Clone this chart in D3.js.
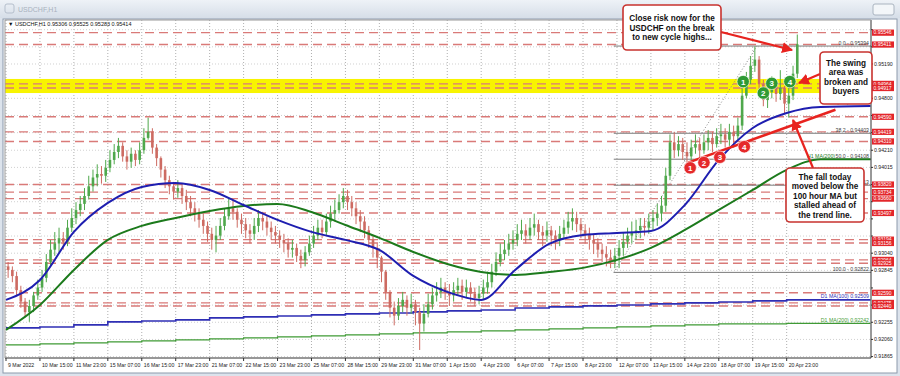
<!DOCTYPE html>
<html>
<head>
<meta charset="utf-8">
<script src="https://cdn.jsdelivr.net/npm/d3@7"></script>
<style>
	body { margin: 0; background: #dce3ec; }
	svg { display: block; font-family: "Liberation Sans", Arial, sans-serif; }
</style>
</head>
<body>
<script>
// ---- data ----
const timeLabels = ['9 Mar 2022', '10 Mar 15:00', '11 Mar 23:00', '15 Mar 07:00', '16 Mar 15:00', '17 Mar 23:00',
	'21 Mar 07:00', '22 Mar 15:00', '23 Mar 23:00', '25 Mar 07:00', '28 Mar 15:00', '29 Mar 23:00', '31 Mar 07:00',
	'1 Apr 15:00', '4 Apr 23:00', '6 Apr 07:00', '7 Apr 15:00', '8 Apr 23:00', '12 Apr 07:00', '13 Apr 15:00',
	'14 Apr 23:00', '18 Apr 07:00', '19 Apr 15:00', '20 Apr 23:00']
const barsPerLabel = 32
const barsPerCandle = 4

const firstOpen = 0.9289
const closes = [
	.9285, .9278, .9262, .9249, .9237, .9244, .9256, .9265,
	.9276, .9294, .9308, .9315, .9321, .9317, .9333, .9344,
	.9353, .9360, .9369, .9380, .9390, .9394, .9392, .9401,
	.9410, .9419, .9426, .9414, .9408, .9417, .9410, .9421,
	.9435, .9442, .9424, .9412, .9399, .9387, .9380, .9374,
	.9378, .9369, .9362, .9355, .9349, .9342, .9335, .9326,
	.9319, .9324, .9335, .9346, .9355, .9351, .9342, .9337,
	.9330, .9326, .9335, .9344, .9340, .9333, .9328, .9324,
	.9319, .9315, .9308, .9310, .9301, .9296, .9305, .9315,
	.9324, .9333, .9328, .9340, .9349, .9353, .9362, .9369,
	.9362, .9355, .9346, .9340, .9330, .9319, .9310, .9299,
	.9283, .9260, .9242, .9233, .9244, .9251, .9242, .9246,
	.9237, .9224, .9235, .9246, .9256, .9260, .9265, .9260,
	.9256, .9262, .9267, .9260, .9265, .9258, .9253, .9258,
	.9265, .9271, .9283, .9294, .9303, .9308, .9315, .9319,
	.9326, .9330, .9324, .9333, .9337, .9328, .9324, .9330,
	.9324, .9319, .9326, .9333, .9340, .9344, .9337, .9330,
	.9326, .9319, .9315, .9308, .9303, .9299, .9294, .9301,
	.9310, .9317, .9324, .9328, .9330, .9335, .9333, .9340,
	.9344, .9349, .9358, .9392, .9430, .9421, .9428, .9419,
	.9414, .9424, .9428, .9421, .9430, .9435, .9428, .9437,
	.9439, .9433, .9442, .9437, .9449, .9483, .9501, .9517,
	.9524, .9496, .9478, .9487, .9494, .9485, .9492, .9474,
	.9483, .9508, .95414]
const highs = [
	.9294, .9289, .9283, .9267, .9253, .9251, .9260, .9274,
	.9285, .9303, .9319, .9328, .9333, .9328, .9342, .9355,
	.9362, .9369, .9378, .9392, .9399, .9405, .9403, .9410,
	.9421, .9428, .9435, .9430, .9421, .9424, .9421, .9430,
	.9446, .9458, .9446, .9428, .9414, .9403, .9392, .9385,
	.9387, .9383, .9376, .9369, .9362, .9355, .9349, .9340,
	.9333, .9335, .9344, .9355, .9367, .9365, .9355, .9349,
	.9344, .9337, .9344, .9353, .9351, .9346, .9340, .9335,
	.9330, .9326, .9321, .9319, .9315, .9308, .9312, .9324,
	.9335, .9342, .9342, .9349, .9358, .9365, .9371, .9378,
	.9376, .9369, .9362, .9353, .9346, .9335, .9324, .9315,
	.9301, .9285, .9262, .9249, .9253, .9260, .9256, .9258,
	.9251, .9242, .9246, .9258, .9265, .9271, .9276, .9271,
	.9269, .9271, .9276, .9274, .9274, .9271, .9265, .9267,
	.9274, .9283, .9292, .9305, .9315, .9319, .9326, .9330,
	.9337, .9342, .9337, .9344, .9349, .9342, .9335, .9340,
	.9335, .9330, .9335, .9342, .9351, .9355, .9351, .9344,
	.9337, .9333, .9326, .9321, .9315, .9312, .9308, .9310,
	.9319, .9328, .9333, .9340, .9342, .9344, .9344, .9349,
	.9353, .9360, .9369, .9401, .9439, .9442, .9437, .9435,
	.9430, .9433, .9439, .9435, .9439, .9444, .9442, .9446,
	.9451, .9446, .9451, .9449, .9458, .9492, .9510, .9528,
	.9539, .9528, .9501, .9496, .9505, .9499, .9512, .9494,
	.9494, .9517, .95525]
const lows = [
	.9276, .9271, .9256, .9242, .9231, .9226, .9237, .9251,
	.9260, .9271, .9289, .9301, .9305, .9308, .9312, .9328,
	.9337, .9346, .9353, .9365, .9374, .9380, .9383, .9385,
	.9396, .9405, .9412, .9408, .9399, .9401, .9403, .9405,
	.9417, .9433, .9417, .9403, .9390, .9378, .9371, .9365,
	.9367, .9360, .9353, .9346, .9340, .9333, .9326, .9317,
	.9308, .9305, .9319, .9330, .9342, .9342, .9333, .9326,
	.9321, .9315, .9319, .9328, .9330, .9324, .9319, .9315,
	.9310, .9305, .9299, .9299, .9294, .9287, .9289, .9301,
	.9310, .9319, .9321, .9324, .9333, .9340, .9349, .9355,
	.9353, .9346, .9337, .9328, .9321, .9310, .9299, .9287,
	.9271, .9251, .9231, .9222, .9228, .9237, .9233, .9235,
	.9222, .9194, .9215, .9231, .9240, .9249, .9253, .9251,
	.9244, .9249, .9256, .9251, .9253, .9249, .9244, .9246,
	.9251, .9258, .9265, .9278, .9289, .9296, .9301, .9308,
	.9312, .9319, .9315, .9319, .9324, .9319, .9312, .9317,
	.9312, .9308, .9312, .9319, .9326, .9330, .9328, .9321,
	.9315, .9308, .9303, .9299, .9294, .9289, .9287, .9287,
	.9287, .9301, .9310, .9315, .9319, .9321, .9324, .9326,
	.9330, .9335, .9340, .9351, .9387, .9412, .9414, .9410,
	.9405, .9410, .9417, .9412, .9417, .9421, .9419, .9424,
	.9428, .9424, .9426, .9424, .9433, .9444, .9480, .9496,
	.9510, .9487, .9471, .9469, .9480, .9476, .9478, .9462,
	.9458, .9478, .9503]

// moving averages sampled at each time label (bar index) plus the right edge
const maBars = [0, 32, 64, 96, 128, 160, 192, 224, 256, 288, 320, 352, 384, 416, 448, 480, 512,
	544, 576, 608, 640, 672, 704, 736, 768, 815]
const h1Ma100 = [.92509, .92736, .93282, .93611, .93793, .93838, .93759, .93588, .93418, .93282, .93191, .93077,
	.92782, .92600, .92509, .92850, .93145, .93248, .93270, .93293, .93588, .94100, .94463, .94634, .94702, .94713]
const h1Ma200 = [.92168, .92452, .92850, .93191, .93350, .93441, .93520, .93577, .93600, .93509, .93361, .93214,
	.93054, .92918, .92827, .92793, .92827, .92873, .92964, .93100, .93304, .93532, .93759, .93986, .94108, .94108]
const d1Ma100 = [.92191, .92202, .92225, .92259, .92270, .92282, .92305, .92316, .92327, .92339, .92350, .92361,
	.92373, .92384, .92395, .92418, .92430, .92441, .92452, .92464, .92475, .92486, .92498, .92509, .92509, .92509]
const d1Ma200 = [.91998, .92009, .92020, .92032, .92043, .92055, .92066, .92077, .92089, .92100, .92112, .92123,
	.92134, .92146, .92157, .92168, .92180, .92191, .92202, .92214, .92225, .92236, .92236, .92242, .92242, .92242]

const priceTicks = [0.95580, 0.95385, 0.95190, 0.94995, 0.94800, 0.94605, 0.94410, 0.94210, 0.94015, 0.93820,
	0.93625, 0.93430, 0.93235, 0.93040, 0.92845, 0.92645, 0.92450, 0.92255, 0.92060, 0.91865]
const levels = [0.95546, 0.95411, 0.94964, 0.94917, 0.94590, 0.94419, 0.94310, 0.93820, 0.93734, 0.93660,
	0.93497, 0.93194, 0.93156, 0.92964, 0.92925, 0.92590, 0.92475, 0.92440]
const swingBand = [0.95020, 0.94860]

const fibNames  = ['0.0', '38.2', '50.0', '61.8', '100.0']
const fibPrices = [0.95394, 0.94403, 0.94108, 0.93813, 0.92822]
const fibLowBar = 573, fibHighBar = 708

const trendBars   = [643, 782]
const trendPrices = [0.9407, 0.9467]
const trendTouchBars   = [645, 658, 673, 696]
const trendTouchPrices = [0.9401, 0.9407, 0.9413, 0.9425]
const swingTouchBars   = [695, 714, 722, 739]
const swingTouchPrices = [0.9499, 0.9486, 0.9497, 0.9499]

const lastBar = ['0.95306', '0.95525', '0.95283', '0.95414']

// ---- layout ----
const W = 900, H = 376
const P = {l: 5, r: 871, t: 20, b: 358}

const x = d3.scaleLinear().domain([0, 815.5]).range([6, P.r])
const y = d3.scaleLinear().domain([0.91849, 0.9569]).range([P.b, P.t])

const svg = d3.select('body').append('svg')
	.attr('width', W)
	.attr('height', H)

const defs = svg.append('defs')
const grad = defs.append('linearGradient').attr('id', 'titleGrad').attr('x1', 0).attr('x2', 0).attr('y1', 0).attr('y2', 1)
grad.append('stop').attr('offset', 0).attr('stop-color', '#eef2f7')
grad.append('stop').attr('offset', 1).attr('stop-color', '#d6dee8')
defs.append('clipPath').attr('id', 'plotClip')
	.append('rect').attr('x', P.l).attr('y', P.t).attr('width', P.r - P.l).attr('height', P.b - P.t)
defs.append('marker')
	.attr('id', 'arrow').attr('viewBox', '0 0 10 10').attr('refX', 9).attr('refY', 5)
	.attr('markerWidth', 5).attr('markerHeight', 5).attr('orient', 'auto')
	.append('path').attr('d', 'M0,0L10,5L0,10Z').attr('fill', '#e8231f')

// window frame
svg.append('rect').attr('width', W).attr('height', H).attr('fill', '#dce3ec')
svg.append('rect').attr('width', W).attr('height', 18).attr('fill', 'url(#titleGrad)')
svg.append('rect').attr('x', 5).attr('y', 4).attr('width', 9).attr('height', 9).attr('rx', 2)
	.attr('fill', 'none').attr('stroke', '#b5bfcc')
svg.append('text').attr('x', 18).attr('y', 12).attr('font-size', 7).attr('fill', '#a8b2be').text('USDCHF,H1')
svg.append('rect').attr('x', 873).attr('y', 4).attr('width', 21).attr('height', 11).attr('rx', 2)
	.attr('fill', '#f3f6f9').attr('stroke', '#aab4c0')
svg.append('rect').attr('x', 3).attr('y', 19).attr('width', 894).attr('height', 354)
	.attr('fill', '#fff').attr('stroke', '#8c9aab')

const g = svg.append('g').attr('clip-path', 'url(#plotClip)')

// grid
g.append('g').selectAll('line').data(timeLabels).join('line')
	.attr('x1', (d, i) => x(i * barsPerLabel)).attr('x2', (d, i) => x(i * barsPerLabel))
	.attr('y1', P.t).attr('y2', P.b)
	.attr('stroke', '#9a9a9a').attr('stroke-dasharray', '1,2').attr('stroke-width', 0.8)
g.append('g').selectAll('line').data(priceTicks).join('line')
	.attr('x1', P.l).attr('x2', P.r).attr('y1', d => y(d)).attr('y2', d => y(d))
	.attr('stroke', '#c4c4c4').attr('stroke-dasharray', '1,2').attr('stroke-width', 0.8)

// swing area
g.append('rect')
	.attr('x', P.l).attr('width', P.r - P.l)
	.attr('y', y(swingBand[0])).attr('height', y(swingBand[1]) - y(swingBand[0]))
	.attr('fill', '#f8f400')

// horizontal levels
g.append('g').selectAll('line').data(levels).join('line')
	.attr('x1', P.l).attr('x2', P.r).attr('y1', d => y(d)).attr('y2', d => y(d))
	.attr('stroke', '#d97a78').attr('stroke-width', 1.4).attr('stroke-dasharray', '9,5')

// fibonacci
g.append('g').selectAll('line').data(fibPrices).join('line')
	.attr('x1', x(fibLowBar)).attr('x2', P.r).attr('y1', d => y(d)).attr('y2', d => y(d))
	.attr('stroke', '#7a7a7a').attr('stroke-width', 1)
g.append('line')
	.attr('x1', x(fibLowBar)).attr('y1', y(fibPrices[4]))
	.attr('x2', x(fibHighBar)).attr('y2', y(fibPrices[0]))
	.attr('stroke', '#8a8a8a').attr('stroke-dasharray', '1,2')
g.append('g').selectAll('text').data(fibPrices).join('text')
	.attr('x', P.r - 2).attr('y', d => y(d) - 1.5)
	.attr('text-anchor', 'end').attr('font-size', 5.2).attr('fill', '#444')
	.text((d, i) => `${fibNames[i]} - ${d.toFixed(5)}`)

// daily moving averages
const maPts = arr => arr.map((v, i) => [maBars[i], v])
const step = d3.line().x(d => x(d[0])).y(d => y(d[1])).curve(d3.curveStepAfter)
const smooth = d3.line().x(d => x(d[0])).y(d => y(d[1])).curve(d3.curveMonotoneX)
g.append('path').attr('d', step(maPts(d1Ma100))).attr('fill', 'none').attr('stroke', '#2f2fb5').attr('stroke-width', 1.6)
g.append('path').attr('d', step(maPts(d1Ma200))).attr('fill', 'none').attr('stroke', '#3f9a35').attr('stroke-width', 1.2)

// candles
const candles = closes.map((c, i) => ({
	bar: barsPerCandle * i + barsPerCandle / 2,
	o: i ? closes[i - 1] : firstOpen,
	h: highs[i], l: lows[i], c
}))
const col = d => d.c >= d.o ? '#4fa84c' : '#cd6b62'
const cg = g.append('g')
cg.selectAll('line').data(candles).join('line')
	.attr('x1', d => x(d.bar)).attr('x2', d => x(d.bar))
	.attr('y1', d => y(Math.max(d.h, d.o, d.c))).attr('y2', d => y(Math.min(d.l, d.o, d.c)))
	.attr('stroke', col).attr('stroke-width', 1)
cg.selectAll('rect').data(candles).join('rect')
	.attr('x', d => x(d.bar) - 1.3).attr('width', 2.6)
	.attr('y', d => y(Math.max(d.o, d.c)))
	.attr('height', d => Math.max(1, Math.abs(y(d.o) - y(d.c))))
	.attr('fill', col)

// hourly moving averages
g.append('path').attr('d', smooth(maPts(h1Ma200))).attr('fill', 'none').attr('stroke', '#1c7a1c').attr('stroke-width', 2)
g.append('path').attr('d', smooth(maPts(h1Ma100))).attr('fill', 'none').attr('stroke', '#1e1eb0').attr('stroke-width', 2)

const maLabel = (txt, v, color, xr) => g.append('text')
	.attr('x', xr).attr('y', y(v) - 1.5).attr('text-anchor', 'end')
	.attr('font-size', 5.2).attr('fill', color).text(txt)
const last = a => a[a.length - 1]
maLabel('H1 MA(100) ' + last(h1Ma100).toFixed(5), last(h1Ma100), '#1e1eb0', P.r - 2)
maLabel('H1 MA(200)', last(h1Ma200), '#1c7a1c', P.r - 36)
maLabel('D1 MA(100) ' + last(d1Ma100).toFixed(5), last(d1Ma100), '#2f2fb5', P.r - 2)
maLabel('D1 MA(200) ' + last(d1Ma200).toFixed(5), last(d1Ma200), '#3f9a35', P.r - 2)

// trend line and touches
g.append('line')
	.attr('x1', x(trendBars[0])).attr('y1', y(trendPrices[0]))
	.attr('x2', x(trendBars[1])).attr('y2', y(trendPrices[1]))
	.attr('stroke', '#e8231f').attr('stroke-width', 2.5)

function markers(bars, prices, fill) {
	const m = svg.append('g').selectAll('g').data(bars).join('g')
		.attr('transform', (d, i) => `translate(${x(d)},${y(prices[i])})`)
	m.append('circle').attr('r', 6.2).attr('fill', fill).attr('stroke', '#fff').attr('stroke-width', 0.6)
	m.append('text').attr('y', 3).attr('text-anchor', 'middle')
		.attr('font-size', 8).attr('font-weight', 'bold').attr('fill', '#fff')
		.text((d, i) => i + 1)
}
markers(trendTouchBars, trendTouchPrices, '#e5292a')
markers(swingTouchBars, swingTouchPrices, '#2e9a34')

// frame of the plot
svg.append('line').attr('x1', P.r).attr('x2', P.r).attr('y1', P.t).attr('y2', P.b).attr('stroke', '#333')
svg.append('line').attr('x1', P.l).attr('x2', P.r).attr('y1', P.b).attr('y2', P.b).attr('stroke', '#333')
svg.append('line').attr('x1', P.l).attr('x2', P.l).attr('y1', P.t).attr('y2', P.b).attr('stroke', '#999')
svg.append('line').attr('x1', P.l).attr('x2', P.r).attr('y1', P.t).attr('y2', P.t).attr('stroke', '#999')

// right price axis: plain ticks sit under the red level tags, so skip the covered ones
const shownTicks = priceTicks.filter(d => y(d) >= P.t && !levels.some(l => Math.abs(y(l) - y(d)) < 6))
const ya = svg.append('g')
ya.selectAll('line').data(priceTicks.filter(d => y(d) >= P.t)).join('line')
	.attr('x1', P.r).attr('x2', P.r + 2).attr('y1', d => y(d)).attr('y2', d => y(d)).attr('stroke', '#333')
ya.selectAll('text').data(shownTicks).join('text')
	.attr('x', P.r + 3).attr('y', d => y(d) + 1.8)
	.attr('font-size', 5.2).attr('fill', '#222').text(d => d.toFixed(5))

const lv = svg.append('g').selectAll('g').data(levels).join('g')
	.attr('transform', d => `translate(${P.r + 1},${y(d)})`)
lv.append('rect').attr('y', -3.1).attr('width', 22).attr('height', 6.2).attr('fill', '#e3262b')
lv.append('text').attr('x', 1.5).attr('y', 1.8).attr('font-size', 5).attr('fill', '#fff').text(d => d.toFixed(5))

// time axis
const xa = svg.append('g').selectAll('g').data(timeLabels).join('g')
	.attr('transform', (d, i) => `translate(${x(i * barsPerLabel)},${P.b})`)
xa.append('line').attr('y2', 3).attr('stroke', '#333')
xa.append('text').attr('x', 2).attr('y', 9).attr('font-size', 5.2).attr('fill', '#222').text(d => d)

// header
svg.append('text').attr('x', 8).attr('y', 26).attr('font-size', 5.5).attr('fill', '#111')
	.text(`\u25BC USDCHF,H1  ${lastBar.join(' ')}`)

// annotations
function note(x0, y0, w, h, lines, ty, lh) {
	const a = svg.append('g')
	a.append('rect').attr('x', x0).attr('y', y0).attr('width', w).attr('height', h).attr('rx', 4)
		.attr('fill', '#fff').attr('stroke', '#c8322e').attr('stroke-width', 1.6)
	a.selectAll('text').data(lines).join('text')
		.attr('x', x0 + w / 2).attr('y', (d, i) => ty + i * lh)
		.attr('text-anchor', 'middle').attr('font-size', 8.2).attr('font-weight', 'bold').attr('fill', '#111')
		.text(d => d)
}
function arrow(x1, y1, x2, y2) {
	svg.append('line').attr('x1', x1).attr('y1', y1).attr('x2', x2).attr('y2', y2)
		.attr('stroke', '#e8231f').attr('stroke-width', 2.2).attr('marker-end', 'url(#arrow)')
}
arrow(721, 32, 792, 50)
arrow(820, 74, 799, 83)
arrow(813, 168, 793, 120)
note(623, 5, 98, 45, ['Close risk now for the', 'USDCHF on the break', 'to new cycle highs...'], 21, 9.6)
note(820, 52, 52, 52, ['The swing', 'area was', 'broken and', 'buyers'], 66, 9.4)
note(786, 168, 78, 54, ['The fall today', 'moved below the', '100 hour MA but', 'stalled ahead of', 'the trend line.'], 180, 9.4)
</script>
</body>
</html>
